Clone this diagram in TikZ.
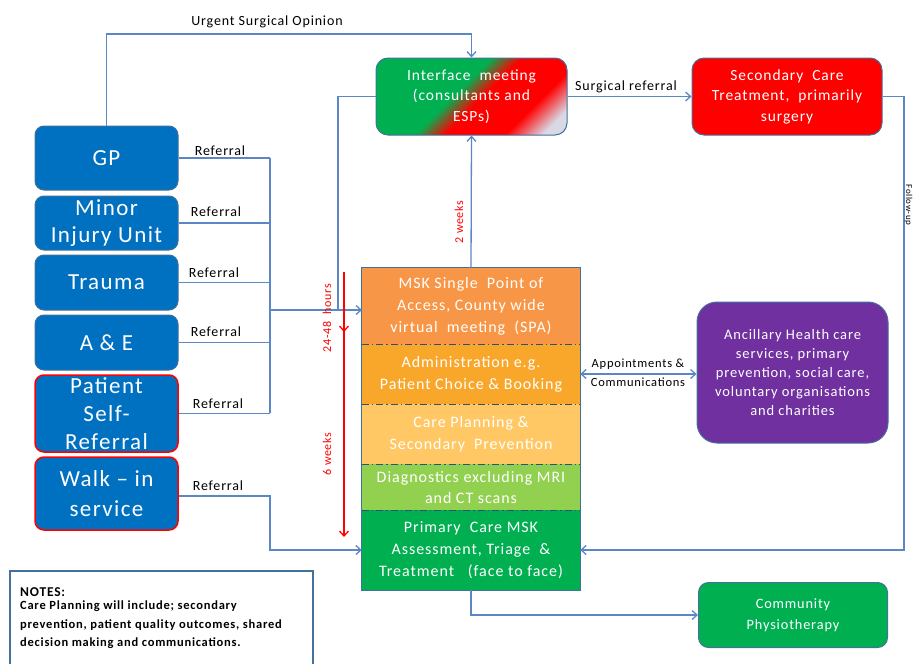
\documentclass[tikz,border=0pt]{standalone}
\usepackage{fontspec}
\setmainfont{Carlito}[LetterSpace=6]
\usetikzlibrary{arrows.meta,shadings}
\definecolor{lblue}{HTML}{0070C0}
\definecolor{bord}{HTML}{41719C}
\definecolor{conn}{HTML}{5B87C5}
\definecolor{ifgreen}{HTML}{00B050}
\definecolor{ifred}{HTML}{FF0000}
\definecolor{ifgray}{HTML}{D9D9E6}
\definecolor{orA}{HTML}{F79646}
\definecolor{orB}{HTML}{F9A72B}
\definecolor{orC}{HTML}{FFC864}
\definecolor{grA}{HTML}{92D050}
\definecolor{grB}{HTML}{00B050}
\definecolor{purp}{HTML}{7030A0}
\definecolor{dashc}{HTML}{2F4F7F}
\pgfdeclarehorizontalshading{ifgrad}{100bp}{color(0bp)=(ifgreen); color(45bp)=(ifgreen); color(53bp)=(ifred); color(69bp)=(ifred); color(79bp)=(ifgray); color(100bp)=(ifgray)}
\tikzset{
  srcbox/.style={draw=bord, line width=1pt, fill=lblue, rounded corners=9pt, text=white, align=center, inner sep=0pt, font=\fontsize{23}{27}\selectfont},
  redbord/.style={draw=red, line width=1.5pt},
  rbox/.style={draw=bord, line width=1pt, align=center, text=white, inner sep=0pt, font=\fontsize{15.5}{20.5}\selectfont},
  spasec/.style={minimum width=218pt, align=center, text=white, inner sep=0pt, font=\fontsize{16}{22}\selectfont},
  conn/.style={draw=conn, line width=1.3pt},
  arr/.style={conn, -{Straight Barb[length=5pt,width=9pt]}},
  lbl/.style={font=\fontsize{14}{15}\selectfont, text=black, inner sep=0pt},
  redarr/.style={draw=red, line width=1.3pt, -{Straight Barb[length=5pt,width=9pt]}},
  redlbl/.style={text=red, font=\fontsize{12}{13}\selectfont, rotate=90, inner sep=0pt},
  divider/.style={draw=dashc, line width=0.8pt, dash pattern=on 7pt off 3pt on 1.5pt off 3pt}
}
\begin{document}
\begin{tikzpicture}[x=1pt,y=-1pt]
\useasboundingbox (0,0) rectangle (913,664);
% left sources
\node[srcbox, minimum width=143pt, minimum height=64pt] (gp) at (106.5,158) {GP};
\node[srcbox, minimum width=143pt, minimum height=54pt] (miu) at (106.5,223) {Minor\\Injury Unit};
\node[srcbox, minimum width=143pt, minimum height=55pt] (tr) at (106.5,282.5) {Trauma};
\node[srcbox, minimum width=143pt, minimum height=55pt] (ae) at (106.5,342.5) {A \& E};
\node[srcbox, redbord, minimum width=143pt, minimum height=77pt, font=\fontsize{23}{28}\selectfont] (psr) at (106.5,413.5) {Patient\\Self-\\Referral};
\node[srcbox, redbord, minimum width=143pt, minimum height=73pt, font=\fontsize{23}{30}\selectfont] (walk) at (106.5,493.5) {Walk -- in\\service};
% top boxes
\node[rbox, rounded corners=12pt, shading=ifgrad, shading angle=-45, minimum width=191pt, minimum height=77pt] (iface) at (471.5,96.5) {Interface\ \ meeting\\(consultants and\\ESPs)};
\node[rbox, rounded corners=12pt, fill=red, minimum width=190pt, minimum height=77pt] (sec) at (787,96.5) {Secondary\ \ Care\\Treatment,\ \ primarily\\surgery};
% SPA stack
\node[spasec, fill=orA, minimum height=76pt] (s1) at (471,306) {MSK Single\ \ Point of\\Access, County wide\\virtual\ \ meeting\ \ (SPA)};
\node[spasec, fill=orB, minimum height=60pt] (s2) at (471,374) {Administration\ e.g.\\Patient\ Choice \& Booking};
\node[spasec, fill=orC, minimum height=60pt] (s3) at (471,434) {Care\ Planning \&\\Secondary\ \ Prevention};
\node[spasec, fill=grA, minimum height=46pt, font=\fontsize{16}{21}\selectfont] (s4) at (471,487) {Diagnostics excluding MRI\\and CT scans};
\node[spasec, fill=grB, minimum height=80pt] (s5) at (471,550) {Primary\ \ Care MSK\\Assessment, Triage\ \ \&\\Treatment\ \ \ (face to face)};
\draw[draw=bord, line width=1.2pt] (s1.north west) rectangle (s5.south east);
\draw[divider] (s1.south west) -- (s1.south east);
\draw[divider] (s2.south west) -- (s2.south east);
\draw[divider] (s3.south west) -- (s3.south east);
\draw[divider] (s4.south west) -- (s4.south east);
% right boxes
\node[rbox, rounded corners=20pt, fill=purp, minimum width=191pt, minimum height=141pt, font=\fontsize{14.5}{19}\selectfont] (anc) at (792.5,372.5) {Ancillary Health care\\services, primary\\prevention, social care,\\voluntary organisations\\and charities};
\node[rbox, rounded corners=10pt, fill=grB, minimum width=189pt, minimum height=65pt, font=\fontsize{14.3}{21}\selectfont] (comm) at (793,615) {Community\\Physiotherapy};
% notes
\draw[draw=bord, line width=1.2pt] (10,571) rectangle (313,672);
\node[anchor=west, inner sep=0pt, font=\bfseries\fontsize{13.5}{14}\selectfont] (notesh) at (20,592) {NOTES:};
\node[anchor=north west, align=left, inner sep=0pt, font=\bfseries\fontsize{12.5}{18.5}\selectfont] (notes) at (20,601) {Care Planning will include; secondary\\prevention,\ patient quality outcomes, shared\\decision making and communications.};
% referral bus
\coordinate (bustop) at (270,158);
\coordinate (busbot) at (270,413);
\coordinate (busout) at (270,310);
\coordinate (spain) at (362,310);
\draw[conn] (gp.east) -- (gp.east -| bustop);
\draw[conn] (miu.east) -- (miu.east -| bustop);
\draw[conn] (tr.east) -- (tr.east -| bustop);
\draw[conn] (ae.east) -- (ae.east -| bustop);
\draw[conn] (psr.east) -- (psr.east -| bustop);
\draw[conn] (bustop) -- (busbot);
\draw[arr] (busout) -- (spain);
\node[lbl] (r1) at (220,151) {Referral};
\node[lbl] (r2) at (216,212) {Referral};
\node[lbl] (r3) at (214,273) {Referral};
\node[lbl] (r4) at (216,332) {Referral};
\node[lbl] (r5) at (218,404) {Referral};
\node[lbl] (r6) at (218,486) {Referral};
% walk-in
\coordinate (wk) at (270,496);
\draw[arr] (walk.east |- wk) -- (wk) |- (s5.west);
% urgent surgical opinion
\coordinate (uso) at (106.5,34);
\draw[arr] (gp.north) -- (uso) -| (iface.north);
\node[lbl] (usol) at (267,22) {Urgent Surgical Opinion};
% interface to SPA
\coordinate (ifl) at (338,96.5);
\draw[conn] (iface.west) -- (ifl) -- (ifl |- spain);
% 2 weeks
\draw[arr] (s1.north) -- (iface.south);
\node[redlbl] (tw) at (459,222) {2 weeks};
% surgical referral
\draw[arr] (iface.east) -- (sec.west);
\node[lbl] (srl) at (626,87) {Surgical referral};
% follow up
\coordinate (fu) at (904,96.5);
\draw[arr] (sec.east) -- (fu) |- (s5.east);
\node[lbl, rotate=-90, font=\fontsize{9}{10}\selectfont] (ful) at (908.5,205) {Follow-up};
% appointments
\draw[conn, {Straight Barb[length=5pt,width=9pt]}-{Straight Barb[length=5pt,width=9pt]}] (s2.east) -- (anc.west |- s2.east);
\node[lbl, font=\fontsize{12.5}{13}\selectfont] (apl) at (638,364) {Appointments \&};
\node[lbl, font=\fontsize{12.5}{13}\selectfont] (cml) at (638,382) {Communications};
% community
\draw[arr] (s5.south) |- (comm.west);
% red arrows
\coordinate (ra) at (344,272);
\coordinate (rb) at (344,332);
\coordinate (rc) at (344,537);
\draw[redarr] (ra) -- (rb);
\draw[redarr] (ra) -- (rc);
\node[redlbl] (h24) at (327,318) {24-48\ \ hours};
\node[redlbl] (w6) at (327,454) {6 weeks};
\end{tikzpicture}
\end{document}
